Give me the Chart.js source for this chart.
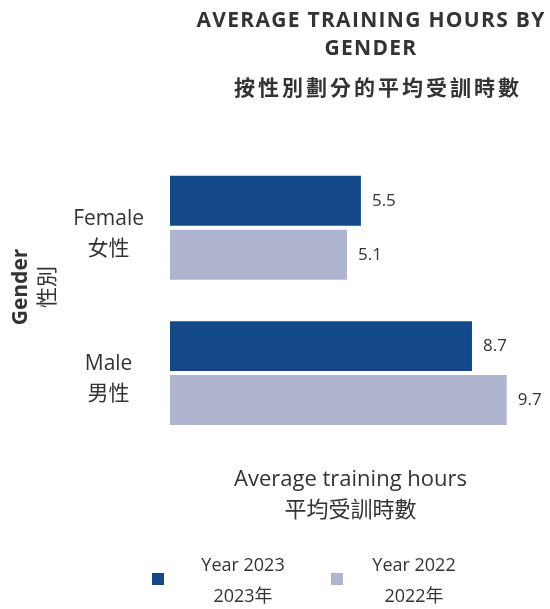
<!DOCTYPE html>
<html>
<head>
<meta charset="utf-8">
<script src="https://cdn.jsdelivr.net/npm/chart.js@4.4.0/dist/chart.umd.min.js"></script>
<style>
  html, body { margin: 0; padding: 0; background: #fff; }
  #wrap { width: 550px; height: 609px; }
</style>
</head>
<body>
<div id="wrap"><canvas id="myChart" width="550" height="609"></canvas></div>
<script>
const genders = [["Female", "女性"], ["Male", "男性"]];
const hours2023 = [5.5, 8.7];
const hours2022 = [5.1, 9.7];
const seriesNames = [["Year 2023", "2023年"], ["Year 2022", "2022年"]];
const titleLines = ["AVERAGE TRAINING HOURS BY", "GENDER"];
const subtitleText = "按性別劃分的平均受訓時數";
const yTitle = ["Gender", "性別"];
const xTitle = ["Average training hours", "平均受訓時數"];

const FONT = "'Open Sans', 'Noto Sans CJK TC', sans-serif";
const TEXT = "#333333";
const BLUE = "#134988";
const LILAC = "#afb4cf";

// title, subtitle, y title, value labels and the two-line legend
const extras = {
  id: "extras",
  afterDraw(chart) {
    const ctx = chart.ctx;
    ctx.save();
    ctx.fillStyle = TEXT;
    ctx.textBaseline = "middle";

    // title
    ctx.textAlign = "center";
    ctx.font = `bold 21px ${FONT}`;
    ctx.letterSpacing = "1.3px";
    ctx.fillText(titleLines[0], 371, 21);
    ctx.fillText(titleLines[1], 371, 49);
    ctx.font = `bold 21px ${FONT}`;
    ctx.letterSpacing = "3px";
    ctx.fillText(subtitleText, 378, 89);
    ctx.letterSpacing = "0px";

    // y axis title
    ctx.save();
    ctx.translate(21, 287);
    ctx.rotate(-Math.PI / 2);
    ctx.font = `bold 21px ${FONT}`;
    ctx.fillText(yTitle[0], 0, 0);
    ctx.restore();
    ctx.save();
    ctx.translate(48, 287);
    ctx.rotate(-Math.PI / 2);
    ctx.font = `21px ${FONT}`;
    ctx.fillText(yTitle[1], 0, 0);
    ctx.restore();

    // value labels
    ctx.textAlign = "left";
    ctx.font = `17px ${FONT}`;
    chart.data.datasets.forEach((ds, i) => {
      chart.getDatasetMeta(i).data.forEach((bar, j) => {
        ctx.fillText(ds.data[j].toFixed(1), bar.x + 11, bar.y);
      });
    });

    // legend
    const boxX = [152, 331];
    const textX = [243, 414];
    chart.data.datasets.forEach((ds, i) => {
      ctx.fillStyle = ds.backgroundColor;
      ctx.fillRect(boxX[i], 573, 12, 12);
      ctx.fillStyle = TEXT;
      ctx.textAlign = "center";
      ctx.font = `18px ${FONT}`;
      ctx.fillText(seriesNames[i][0], textX[i], 566);
      ctx.fillText(seriesNames[i][1], textX[i], 597);
    });
    ctx.restore();
  },
};

new Chart("myChart", {
  type: "bar",
  data: {
    labels: genders,
    datasets: [
      {
        label: seriesNames[0][0],
        data: hours2023,
        backgroundColor: BLUE,
      },
      {
        label: seriesNames[1][0],
        data: hours2022,
        backgroundColor: LILAC,
      },
    ],
  },
  options: {
    indexAxis: "y",
    responsive: false,
    animation: false,
    barPercentage: 0.926,
    categoryPercentage: 0.742,
    layout: {
      padding: { top: 155, right: 19, bottom: 83, left: 0 },
    },
    plugins: {
      legend: { display: false },
      title: { display: false },
      tooltip: { enabled: false },
    },
    scales: {
      x: {
        min: 0,
        max: 10.4,
        grid: { display: false, drawTicks: false },
        border: { display: false },
        ticks: { display: false },
        title: {
          display: true,
          text: xTitle,
          color: TEXT,
          font: { family: FONT, size: 22, lineHeight: 1.4 },
          padding: { top: 18.6, bottom: 0 },
        },
      },
      y: {
        grid: { display: false, drawTicks: false },
        border: { display: false },
        afterFit(scale) {
          scale.width = 170;
        },
        ticks: {
          color: TEXT,
          crossAlign: "center",
          padding: 26,
          labelOffset: 6,
          font: { family: FONT, size: 21, lineHeight: 1.43 },
        },
      },
    },
  },
  plugins: [extras],
});
</script>
</body>
</html>
